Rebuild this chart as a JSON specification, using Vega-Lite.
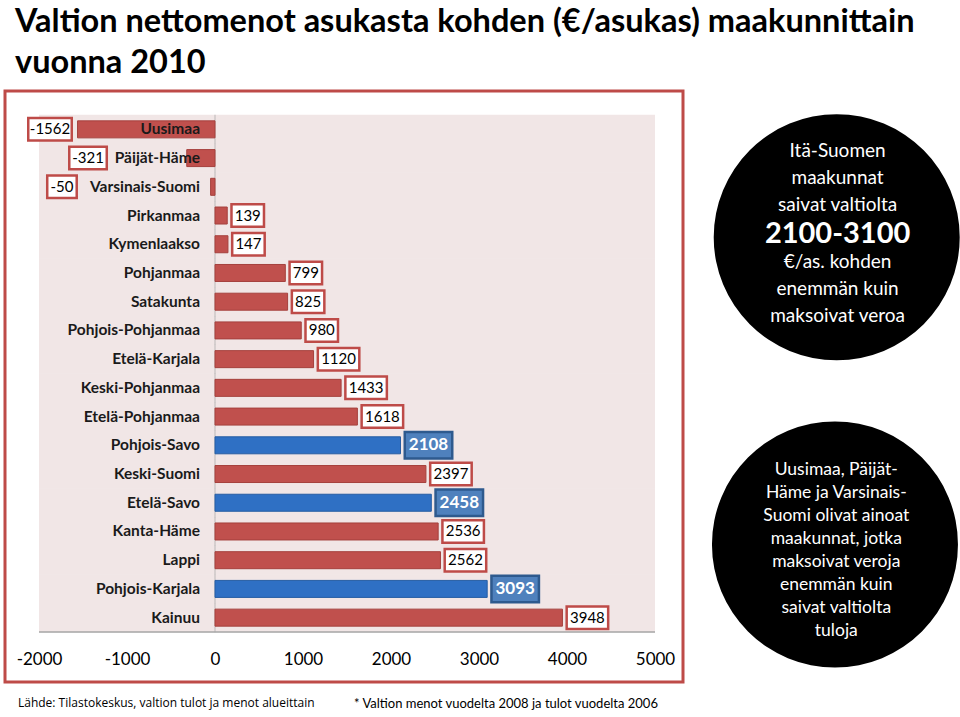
{
  "$schema": "https://vega.github.io/schema/vega-lite/v6.json",
  "autosize": "none",
  "width": 678,
  "height": 591,
  "padding": {"left": 5, "top": 91, "right": 277, "bottom": 35},
  "background": "white",
  "config": {"font": "Lato", "view": {"stroke": "#BE4B48", "strokeWidth": 3, "fill": "white"}},
  "title": {
    "text": ["Valtion nettomenot asukasta kohden (€/asukas) maakunnittain", "vuonna 2010"],
    "anchor": "start",
    "frame": "group",
    "dx": 10,
    "offset": 12,
    "font": "Lato",
    "fontSize": 32.5,
    "fontWeight": "bold",
    "color": "#000000",
    "lineHeight": 41
  },
  "data": {
    "values": [
      {"region": "Uusimaa", "value": -1562, "group": "muu"},
      {"region": "Päijät-Häme", "value": -321, "group": "muu"},
      {"region": "Varsinais-Suomi", "value": -50, "group": "muu"},
      {"region": "Pirkanmaa", "value": 139, "group": "muu"},
      {"region": "Kymenlaakso", "value": 147, "group": "muu"},
      {"region": "Pohjanmaa", "value": 799, "group": "muu"},
      {"region": "Satakunta", "value": 825, "group": "muu"},
      {"region": "Pohjois-Pohjanmaa", "value": 980, "group": "muu"},
      {"region": "Etelä-Karjala", "value": 1120, "group": "muu"},
      {"region": "Keski-Pohjanmaa", "value": 1433, "group": "muu"},
      {"region": "Etelä-Pohjanmaa", "value": 1618, "group": "muu"},
      {"region": "Pohjois-Savo", "value": 2108, "group": "Itä-Suomi"},
      {"region": "Keski-Suomi", "value": 2397, "group": "muu"},
      {"region": "Etelä-Savo", "value": 2458, "group": "Itä-Suomi"},
      {"region": "Kanta-Häme", "value": 2536, "group": "muu"},
      {"region": "Lappi", "value": 2562, "group": "muu"},
      {"region": "Pohjois-Karjala", "value": 3093, "group": "Itä-Suomi"},
      {"region": "Kainuu", "value": 3948, "group": "muu"}
    ]
  },
  "encoding": {
    "x": {
      "field": "value",
      "type": "quantitative",
      "scale": {"domain": [-2386.4, 5318.2], "nice": false, "zero": false},
      "axis": {
        "title": null,
        "values": [-2000, -1000, 0, 1000, 2000, 3000, 4000, 5000],
        "labelExpr": "'' + datum.value",
        "domain": false,
        "ticks": false,
        "tickSize": 0,
        "grid": false,
        "offset": -33,
        "labelPadding": 2,
        "labelFont": "Lato",
        "labelFontSize": 17,
        "labelColor": "#000000",
        "labelFlush": false,
        "labelOverlap": false
      }
    },
    "y": {
      "field": "region",
      "type": "nominal",
      "sort": null,
      "axis": null,
      "scale": {
        "type": "band",
        "domain": ["Uusimaa", "Päijät-Häme", "Varsinais-Suomi", "Pirkanmaa", "Kymenlaakso", "Pohjanmaa", "Satakunta", "Pohjois-Pohjanmaa", "Etelä-Karjala", "Keski-Pohjanmaa", "Etelä-Pohjanmaa", "Pohjois-Savo", "Keski-Suomi", "Etelä-Savo", "Kanta-Häme", "Lappi", "Pohjois-Karjala", "Kainuu"],
        "range": [24, 541],
        "paddingInner": 0.408,
        "paddingOuter": 0.204,
        "align": 0.5
      }
    }
  },
  "layer": [
    {
      "mark": {"type": "bar", "color": "#F1E6E6", "height": {"band": 1.72}},
      "encoding": {"x": {"datum": -2000}, "x2": {"datum": 5000}}
    },
    {
      "mark": {"type": "tick", "color": "#A6A6A6", "thickness": 1, "size": 29, "orient": "vertical"},
      "encoding": {"x": {"datum": 0}}
    },
    {
      "transform": [{"filter": "datum.region === 'Kainuu'"}],
      "mark": {"type": "rule", "color": "#A6A6A6", "strokeWidth": 1.5, "yOffset": 14.4},
      "encoding": {"x": {"datum": -2000}, "x2": {"datum": 5000}}
    },
    {
      "mark": {"type": "bar", "strokeWidth": 1},
      "encoding": {
        "x2": {"datum": 0},
        "color": {"field": "group", "type": "nominal", "scale": {"domain": ["muu", "Itä-Suomi"], "range": ["#C0504D", "#2F70C4"]}, "legend": null},
        "stroke": {"field": "group", "type": "nominal", "scale": {"domain": ["muu", "Itä-Suomi"], "range": ["#A5403D", "#265DA3"]}, "legend": null}
      }
    },
    {
      "mark": {"type": "text", "align": "right", "baseline": "middle", "dx": -15, "font": "Lato", "fontSize": 15.5, "fontWeight": "bold", "color": "#1A1A1A"},
      "encoding": {"x": {"datum": 0}, "text": {"field": "region", "type": "nominal"}}
    },
    {
      "transform": [{"filter": "datum.group === 'muu' && datum.value >= 100 && datum.value < 1000"}],
      "layer": [
        {"mark": {"type": "point", "shape": "M-1,-0.692L1,-0.692L1,0.692L-1,0.692Z", "size": 1056, "filled": true, "fill": "white", "stroke": "#BE4B48", "strokeWidth": 2.5, "opacity": 1, "xOffset": 20.5}},
        {"mark": {"type": "text", "fontSize": 15, "color": "#000000", "align": "center", "baseline": "middle", "xOffset": 20.5}, "encoding": {"text": {"field": "value", "type": "nominal"}}}
      ]
    },
    {
      "transform": [{"filter": "datum.group === 'muu' && datum.value >= 1000"}],
      "layer": [
        {"mark": {"type": "point", "shape": "M-1,-0.542L1,-0.542L1,0.542L-1,0.542Z", "size": 1722, "filled": true, "fill": "white", "stroke": "#BE4B48", "strokeWidth": 2.5, "opacity": 1, "xOffset": 25}},
        {"mark": {"type": "text", "fontSize": 15, "color": "#000000", "align": "center", "baseline": "middle", "xOffset": 25}, "encoding": {"text": {"field": "value", "type": "nominal"}}}
      ]
    },
    {
      "transform": [{"filter": "datum.group === 'Itä-Suomi'"}],
      "layer": [
        {"mark": {"type": "point", "shape": "M-1,-0.558L1,-0.558L1,0.558L-1,0.558Z", "size": 2256, "filled": true, "fill": "#4F81BD", "stroke": "#2E5A8E", "strokeWidth": 2.5, "opacity": 1, "xOffset": 28}},
        {"mark": {"type": "text", "fontSize": 17, "fontWeight": "bold", "color": "#FFFFFF", "align": "center", "baseline": "middle", "xOffset": 28}, "encoding": {"text": {"field": "value", "type": "nominal"}}}
      ]
    },
    {
      "transform": [{"filter": "datum.region === 'Uusimaa'"}],
      "encoding": {"x": {"datum": -1875}},
      "layer": [
        {"mark": {"type": "point", "shape": "M-1,-0.517L1,-0.517L1,0.517L-1,0.517Z", "size": 1892, "filled": true, "fill": "white", "stroke": "#BE4B48", "strokeWidth": 2.5, "opacity": 1}},
        {"mark": {"type": "text", "fontSize": 15, "color": "#000000", "align": "center", "baseline": "middle"}, "encoding": {"text": {"field": "value", "type": "nominal"}}}
      ]
    },
    {
      "transform": [{"filter": "datum.region === 'Päijät-Häme'"}],
      "encoding": {"x": {"datum": -1443}},
      "layer": [
        {"mark": {"type": "point", "shape": "M-1,-0.6L1,-0.6L1,0.6L-1,0.6Z", "size": 1406, "filled": true, "fill": "white", "stroke": "#BE4B48", "strokeWidth": 2.5, "opacity": 1}},
        {"mark": {"type": "text", "fontSize": 15, "color": "#000000", "align": "center", "baseline": "middle"}, "encoding": {"text": {"field": "value", "type": "nominal"}}}
      ]
    },
    {
      "transform": [{"filter": "datum.region === 'Varsinais-Suomi'"}],
      "encoding": {"x": {"datum": -1739}},
      "layer": [
        {"mark": {"type": "point", "shape": "M-1,-0.763L1,-0.763L1,0.763L-1,0.763Z", "size": 870, "filled": true, "fill": "white", "stroke": "#BE4B48", "strokeWidth": 2.5, "opacity": 1}},
        {"mark": {"type": "text", "fontSize": 15, "color": "#000000", "align": "center", "baseline": "middle"}, "encoding": {"text": {"field": "value", "type": "nominal"}}}
      ]
    },
    {
      "transform": [{"filter": "datum.region === 'Kymenlaakso'"}],
      "mark": {"type": "point", "shape": "circle", "size": 60516, "filled": true, "color": "#000000", "opacity": 1, "yOffset": -7},
      "encoding": {"x": {"datum": 7065}}
    },
    {
      "transform": [{"filter": "datum.region === 'Kanta-Häme'"}],
      "mark": {"type": "point", "shape": "circle", "size": 60516, "filled": true, "color": "#000000", "opacity": 1, "yOffset": 13},
      "encoding": {"x": {"datum": 7045}}
    },
    {
      "transform": [{"filter": "datum.region === 'Päijät-Häme'"}],
      "mark": {"type": "text", "color": "#FFFFFF", "font": "Lato", "fontSize": 19, "lineHeight": 27, "align": "center", "baseline": "middle", "dy": -7},
      "encoding": {"x": {"datum": 7075}, "text": {"value": ["Itä-Suomen", "maakunnat", "saivat valtiolta"]}}
    },
    {
      "transform": [{"filter": "datum.region === 'Kymenlaakso'"}],
      "mark": {"type": "text", "color": "#FFFFFF", "font": "Lato", "fontSize": 29, "fontWeight": "bold", "align": "center", "baseline": "middle", "dy": -10},
      "encoding": {"x": {"datum": 7075}, "text": {"value": "2100-3100"}}
    },
    {
      "transform": [{"filter": "datum.region === 'Pohjanmaa'"}],
      "mark": {"type": "text", "color": "#FFFFFF", "font": "Lato", "fontSize": 19, "lineHeight": 27, "align": "center", "baseline": "middle", "dy": -10.7},
      "encoding": {"x": {"datum": 7075}, "text": {"value": ["€/as. kohden", "enemmän kuin", "maksoivat veroa"]}}
    },
    {
      "transform": [{"filter": "datum.region === 'Keski-Suomi'"}],
      "mark": {"type": "text", "color": "#FFFFFF", "font": "Lato", "fontSize": 17.5, "lineHeight": 23, "align": "center", "baseline": "middle", "dy": -4},
      "encoding": {"x": {"datum": 7060}, "text": {"value": ["Uusimaa, Päijät-", "Häme ja Varsinais-", "Suomi olivat ainoat", "maakunnat, jotka", "maksoivat veroja", "enemmän kuin", "saivat valtiolta", "tuloja"]}}
    },
    {
      "transform": [{"filter": "datum.region === 'Kainuu'"}],
      "mark": {"type": "text", "color": "#000000", "font": "Open Sans", "fontSize": 12, "align": "left", "baseline": "middle", "dy": 85},
      "encoding": {"x": {"datum": -2239}, "text": {"value": "Lähde: Tilastokeskus, valtion tulot ja menot alueittain"}}
    },
    {
      "transform": [{"filter": "datum.region === 'Kainuu'"}],
      "mark": {"type": "text", "color": "#000000", "font": "Lato", "fontSize": 13, "align": "left", "baseline": "middle", "dy": 86},
      "encoding": {"x": {"datum": 1580}, "text": {"value": "* Valtion menot vuodelta 2008 ja tulot vuodelta 2006"}}
    }
  ]
}
